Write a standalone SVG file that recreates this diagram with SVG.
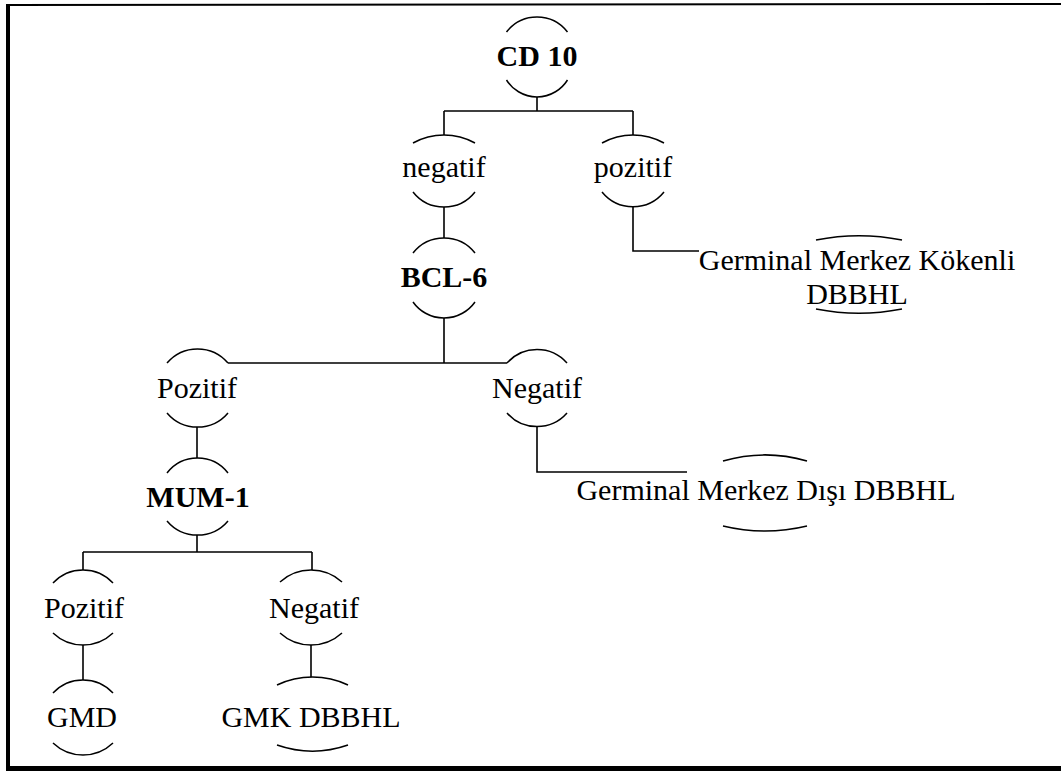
<svg xmlns="http://www.w3.org/2000/svg" width="1061" height="775" viewBox="0 0 1061 775">
<style>
text{font-family:"Liberation Serif","Times New Roman",serif;font-size:30px;fill:#000;text-anchor:middle}
.b{font-weight:bold}
.arc{fill:none;stroke:#000;stroke-width:1.5}
.con{fill:none;stroke:#000;stroke-width:1.6}
</style>
<rect x="0" y="0" width="1061" height="775" fill="#fff"/>
<g id="border">
<rect x="6" y="4" width="4" height="767" fill="#000"/>
<line x1="6" y1="5" x2="1061" y2="4" stroke="#000" stroke-width="2"/>
<rect x="6" y="766" width="1055" height="5" fill="#000"/>
</g>
<g id="connectors" class="con">
<path d="M537,97 V111 M444,111 H633 M444,111 V135 M633,111 V135"/>
<path d="M444,207 V238"/>
<path d="M633,206 V251 H699"/>
<path d="M444,318 V363 M228,363 H507"/>
<path d="M197,427 V458"/>
<path d="M537,427 V472 H687"/>
<path d="M197,535 V552 M83,552 H312 M83,552 V570 M312,552 V570"/>
<path d="M83,645 V680"/>
<path d="M311,645 V677"/>
</g>
<g id="n-cd10">
<path class="arc" d="M506.5,32 A38.5,38.5 0 0 1 567.5,32"/>
<path class="arc" d="M506.5,80 A36,36 0 0 0 567.5,80"/>
<text class="b" x="537" y="66">CD 10</text>
</g>
<g id="n-negatif">
<path class="arc" d="M413,143 A64,64 0 0 1 475,143"/>
<path class="arc" d="M413,192 A39.5,39.5 0 0 0 475,192"/>
<text x="444" y="177">negatif</text>
</g>
<g id="n-pozitif">
<path class="arc" d="M602,143 A64,64 0 0 1 664,143"/>
<path class="arc" d="M602,192 A40,40 0 0 0 664,192"/>
<text x="633" y="177">pozitif</text>
</g>
<g id="n-gmk-kokenli">
<path class="arc" d="M816,240 A222,222 0 0 1 902,240"/>
<path class="arc" d="M816,309 A222,222 0 0 0 902,309"/>
<text x="857" y="270">Germinal Merkez Kökenli</text>
<text x="857" y="304">DBBHL</text>
</g>
<g id="n-bcl6">
<path class="arc" d="M413,253 A39.5,39.5 0 0 1 475,253"/>
<path class="arc" d="M413,302 A38,38 0 0 0 475,302"/>
<text class="b" x="444" y="287">BCL-6</text>
</g>
<g id="n-pozitif2">
<path class="arc" d="M167,363 A40,40 0 0 1 228,363"/>
<path class="arc" d="M167,413 A40,40 0 0 0 228,413"/>
<text x="197" y="398">Pozitif</text>
</g>
<g id="n-negatif2">
<path class="arc" d="M507,363 A40,40 0 0 1 567,363"/>
<path class="arc" d="M507,413 A40,40 0 0 0 567,413"/>
<text x="537" y="398">Negatif</text>
</g>
<g id="n-gm-disi">
<path class="arc" d="M723,461 A150,150 0 0 1 807,461"/>
<path class="arc" d="M723,526 A179,179 0 0 0 807,526"/>
<text x="766" y="500">Germinal Merkez Dışı DBBHL</text>
</g>
<g id="n-mum1">
<path class="arc" d="M167,473 A38.5,38.5 0 0 1 228,473"/>
<path class="arc" d="M167,521 A40,40 0 0 0 228,521"/>
<text class="b" x="198" y="507">MUM-1</text>
</g>
<g id="n-pozitif3">
<path class="arc" d="M53,583 A41,41 0 0 1 113,583"/>
<path class="arc" d="M53,633 A43.5,43.5 0 0 0 113,633"/>
<text x="84" y="618">Pozitif</text>
</g>
<g id="n-negatif3">
<path class="arc" d="M280,582 A46,46 0 0 1 342,582"/>
<path class="arc" d="M280,633 A46,46 0 0 0 342,633"/>
<text x="314" y="618">Negatif</text>
</g>
<g id="n-gmd">
<path class="arc" d="M53,693 A41,41 0 0 1 113,693"/>
<path class="arc" d="M53,743 A43.5,43.5 0 0 0 113,743"/>
<text x="82" y="727">GMD</text>
</g>
<g id="n-gmk">
<path class="arc" d="M277,685 A83,83 0 0 1 348,685"/>
<path class="arc" d="M277,745 A108,108 0 0 0 348,745"/>
<text x="311" y="727">GMK DBBHL</text>
</g>
</svg>
